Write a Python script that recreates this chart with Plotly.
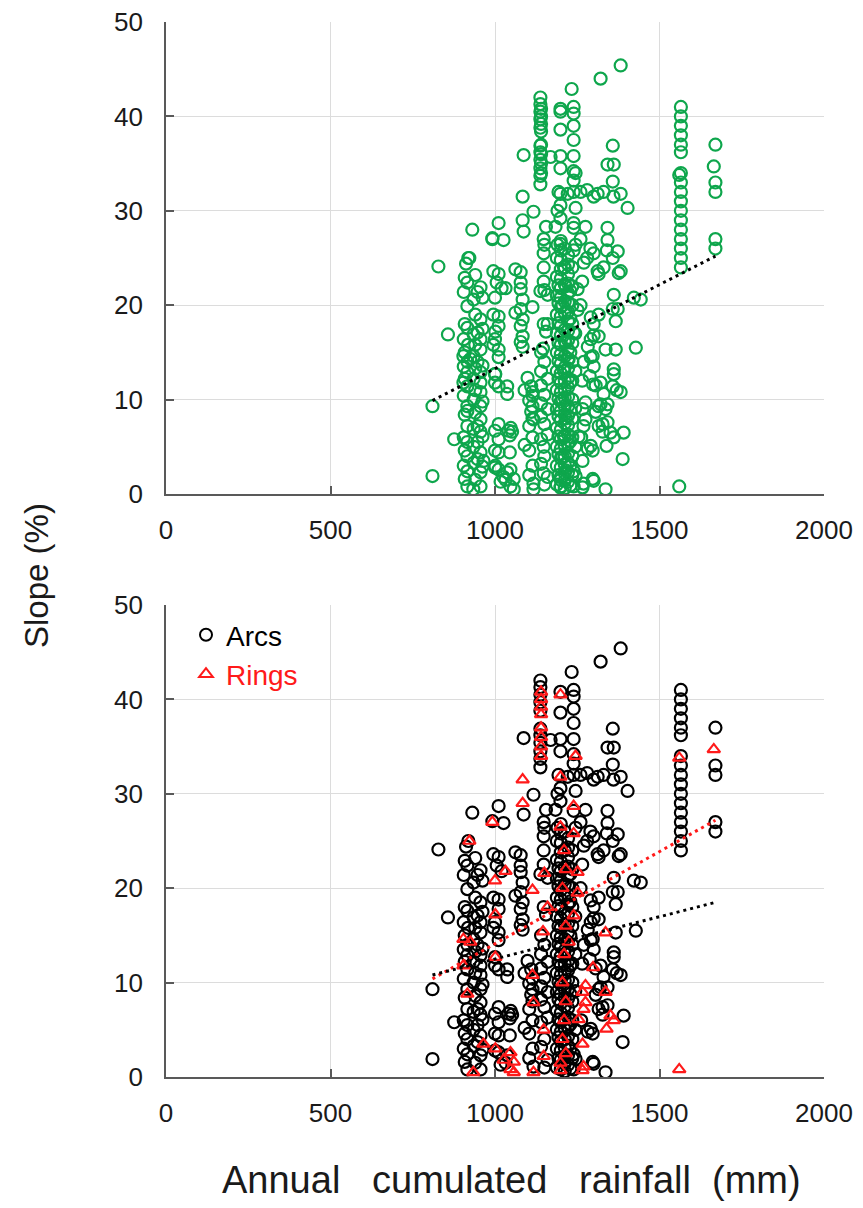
import plotly.graph_objects as go

# ---------------- data ----------------
# Arcs: (annual rainfall mm, slope %)
arcs = [
    # sparse left points
    (810, 9.3), (810, 1.9), (828, 24.1), (857, 16.9), (876, 5.8),
    # column ~905-920
    (919, 25.0), (912, 24.4), (908, 22.9), (916, 22.4), (905, 21.4), (916, 19.9), (908, 18.0),
    (916, 17.6), (905, 16.4), (918, 15.8), (908, 15.0), (916, 14.0), (905, 13.5), (916, 12.9),
    (908, 12.2), (916, 11.4), (905, 10.4), (916, 9.3), (908, 8.4), (916, 7.2), (905, 6.0),
    (916, 5.5), (908, 4.6), (916, 4.0), (905, 3.0), (916, 2.4), (908, 1.6), (916, 0.8),
    # column ~935-962
    (931, 28.0), (940, 23.2), (956, 21.9), (947, 21.4), (935, 20.6), (940, 19.0), (956, 18.5),
    (947, 17.1), (935, 16.9), (956, 16.4), (940, 15.8), (956, 15.3), (935, 14.6), (947, 14.0),
    (940, 13.3), (956, 12.9), (935, 12.2), (956, 11.8), (940, 11.0), (956, 10.8), (935, 10.0),
    (956, 9.3), (940, 8.6), (956, 7.9), (947, 7.2), (935, 6.9), (956, 6.6), (947, 5.5),
    (935, 5.0), (956, 4.4), (947, 3.7), (935, 3.3), (956, 2.3), (940, 1.5), (956, 0.8),
    (962, 20.8), (962, 17.5), (962, 13.6), (962, 9.8), (962, 6.1), (962, 2.9),
    # column ~990-1050
    (992, 27.1), (1011, 28.7), (1026, 26.9), (1011, 23.3), (995, 23.6), (1005, 22.4),
    (1020, 21.8), (1011, 18.8), (995, 19.0), (1011, 17.8), (1000, 16.4), (1011, 15.3),
    (995, 15.8), (1011, 14.5), (1000, 12.7), (1011, 11.4), (1000, 11.8), (1011, 7.4),
    (1000, 6.7), (1011, 5.8), (1000, 4.6), (1011, 4.4), (1000, 2.8), (1011, 2.6), (1017, 1.3),
    (1037, 11.4), (1037, 10.6), (1041, 6.7), (1048, 7.0), (1045, 6.2), (1052, 6.6),
    (1037, 2.3), (1032, 1.5), (1045, 4.4),
    # column ~1060-1120
    (1087, 35.9), (1117, 29.9), (1087, 27.8), (1078, 23.5), (1078, 22.4), (1078, 21.7),
    (1084, 20.6), (1078, 19.6), (1084, 18.5), (1078, 17.8), (1084, 16.7), (1078, 16.1),
    (1084, 15.6), (1062, 23.8), (1062, 19.2),
    (1099, 12.3), (1110, 11.4), (1114, 10.4), (1104, 9.9), (1114, 9.3), (1110, 8.7),
    (1114, 8.0), (1104, 7.2), (1114, 6.0), (1104, 4.6), (1114, 3.0), (1104, 2.0),
    (1117, 1.1), (1090, 11.0), (1090, 5.2),
    # column ~1140-1170
    (1138, 42.0), (1138, 41.3), (1138, 40.5), (1138, 39.7), (1138, 38.8), (1138, 36.9),
    (1138, 36.2), (1138, 35.4), (1138, 34.5), (1138, 33.7), (1138, 32.8),
    (1169, 35.7), (1155, 28.3), (1150, 26.4), (1138, 21.5), (1160, 21.1), (1148, 18.0),
    (1155, 17.2), (1148, 27.0), (1148, 25.5), (1148, 24.0), (1148, 22.5),
    (1140, 15.0), (1150, 14.0), (1140, 13.0), (1160, 12.2), (1140, 11.5), (1150, 10.5),
    (1140, 9.6), (1160, 9.0), (1140, 8.2), (1150, 7.4), (1160, 6.3), (1140, 5.8),
    (1150, 4.0), (1140, 3.2), (1160, 1.8), (1150, 1.0),
    # column ~1190-1245 upper part
    (1199, 40.8), (1199, 38.6), (1199, 35.8), (1199, 34.5), (1193, 32.0), (1190, 30.0),
    (1199, 30.6), (1184, 28.3), (1199, 29.2), (1190, 26.4),
    (1233, 42.9), (1239, 41.0), (1239, 40.3), (1239, 39.0), (1239, 37.5), (1239, 35.8),
    (1239, 34.2), (1239, 33.2), (1239, 32.0), (1245, 30.3), (1239, 28.2), (1245, 26.4),
    # dense column ~1185-1240
    (1200, 0.8), (1200, 1.8), (1200, 2.8), (1200, 3.8), (1200, 4.8), (1200, 5.8), (1200, 6.8),
    (1200, 7.8), (1200, 8.8), (1200, 9.8), (1200, 10.8), (1200, 11.8), (1200, 12.8),
    (1200, 13.8), (1200, 14.8), (1200, 15.8), (1200, 16.8), (1200, 17.8), (1200, 18.8),
    (1200, 19.8), (1200, 20.8), (1200, 21.8), (1200, 22.8), (1200, 23.8), (1200, 24.8),
    (1200, 25.8), (1200, 26.8),
    (1212, 0.6), (1212, 1.4), (1212, 2.2), (1212, 3.1), (1212, 4.0), (1212, 5.1), (1212, 6.2),
    (1212, 7.5), (1212, 8.4), (1212, 9.3), (1212, 10.2), (1212, 11.1), (1212, 12.0),
    (1212, 13.4), (1212, 14.6), (1212, 16.2), (1212, 17.4), (1212, 19.2), (1212, 20.4),
    (1212, 22.2), (1212, 24.0), (1212, 26.0),
    (1222, 1.3), (1222, 2.3), (1222, 3.3), (1222, 4.3), (1222, 5.3), (1222, 6.3), (1222, 7.3),
    (1222, 8.3), (1222, 9.3), (1222, 10.3), (1222, 11.3), (1222, 12.3), (1222, 13.3),
    (1222, 14.3), (1222, 15.3), (1222, 16.3), (1222, 17.3), (1222, 18.3), (1222, 19.3),
    (1222, 20.3), (1222, 21.3), (1222, 22.3), (1222, 23.3), (1222, 24.3), (1222, 25.3),
    (1188, 1.0), (1188, 3.0), (1188, 5.0), (1188, 7.0), (1188, 9.0), (1188, 11.0),
    (1188, 13.0), (1188, 15.0), (1188, 17.0), (1188, 19.0), (1188, 21.0), (1188, 23.0),
    (1188, 25.0),
    (1193, 2.0), (1193, 4.2), (1193, 6.1), (1193, 8.2), (1193, 10.1), (1193, 12.2),
    (1193, 14.1), (1193, 16.0), (1193, 18.1), (1193, 20.2), (1193, 22.1),
    (1235, 2.0), (1235, 4.0), (1235, 6.0), (1235, 8.0), (1235, 10.0), (1235, 12.0),
    (1235, 14.0), (1235, 16.0), (1235, 18.0), (1235, 20.0), (1235, 22.0), (1235, 24.0),
    (1229, 0.9), (1229, 3.0), (1229, 5.6), (1229, 8.8), (1229, 11.8), (1229, 15.0),
    (1229, 18.6), (1229, 21.5), (1244, 5.0), (1244, 9.1), (1244, 13.0), (1244, 17.0),
    # upper right
    (1321, 44.0), (1382, 45.4), (1358, 36.9), (1342, 34.9), (1361, 34.9), (1358, 33.1),
    (1221, 31.8), (1260, 32.0), (1280, 32.2), (1300, 31.5), (1312, 31.8), (1330, 32.0),
    (1360, 31.5), (1382, 31.8), (1403, 30.3), (1275, 28.3), (1342, 28.2), (1342, 26.9),
    (1260, 27.0), (1290, 26.0),
    # lower right
    (1312, 23.6), (1382, 23.6), (1358, 25.0), (1373, 25.7), (1315, 23.3), (1376, 23.4),
    (1422, 20.8), (1443, 20.6), (1361, 21.1), (1358, 19.6), (1373, 19.6), (1291, 18.7),
    (1315, 19.0), (1367, 18.3), (1300, 18.0), (1291, 16.4), (1300, 16.8), (1315, 16.7),
    (1428, 15.5), (1367, 15.3), (1282, 15.6), (1291, 14.5), (1297, 14.6), (1361, 13.2),
    (1361, 12.7), (1288, 12.5), (1300, 13.5), (1321, 11.8), (1358, 11.4), (1370, 11.0),
    (1382, 10.8), (1306, 11.5), (1330, 10.6), (1315, 9.3), (1306, 8.7), (1342, 9.5),
    (1321, 9.5), (1327, 7.4), (1342, 7.6), (1315, 7.2), (1327, 6.6), (1391, 6.5),
    (1291, 5.1), (1282, 4.8), (1297, 4.6), (1388, 3.7), (1239, 2.4), (1245, 1.9),
    (1297, 1.6), (1300, 1.4), (1336, 0.5), (1239, 0.8), (1260, 20.0), (1265, 22.5),
    (1270, 24.5), (1280, 25.0), (1300, 25.5), (1330, 24.0), (1340, 25.8), (1270, 14.0),
    (1265, 12.0), (1262, 6.0),
    # column ~1565
    (1565, 41.0), (1565, 40.0), (1565, 39.0), (1565, 38.0), (1565, 37.0), (1565, 36.2),
    (1565, 34.0), (1565, 33.0), (1565, 32.0), (1565, 31.0), (1565, 30.0), (1565, 29.0),
    (1565, 28.0), (1565, 27.0), (1565, 26.0), (1565, 25.0), (1565, 24.0),
    # column ~1670
    (1670, 37.0), (1670, 33.0), (1670, 32.0), (1670, 27.0), (1670, 26.0),
]

# Rings: (annual rainfall mm, slope %)
rings = [
    (1140, 40.8), (1140, 40.0), (1140, 39.2), (1140, 38.4), (1140, 37.0), (1140, 36.0),
    (1140, 35.0), (1140, 34.0),
    (1199, 40.5), (1199, 31.8), (1199, 26.5),
    (1245, 34.0), (1239, 28.7), (1239, 25.8), (1251, 21.7), (1251, 19.5), (1239, 17.1),
    (1224, 14.3),
    (1084, 31.5), (1084, 29.0), (992, 27.0), (922, 25.0),
    (1560, 33.8), (1560, 0.8), (1665, 34.7),
    (1032, 21.8), (1150, 21.6), (1114, 19.8), (1160, 18.0), (1001, 17.2), (1146, 15.4),
    (1001, 12.7), (1336, 15.3), (904, 14.6), (904, 11.8), (1114, 10.8), (916, 8.8),
    (1275, 9.7), (1275, 7.9), (1269, 7.2), (1117, 7.9), (1298, 11.6), (1336, 9.0),
    (1266, 9.0), (1351, 6.5), (1361, 6.0), (1339, 5.1), (1254, 6.1), (1148, 5.0),
    (1148, 2.2), (965, 3.5), (1001, 3.0), (1266, 3.5), (1057, 1.6), (1026, 1.8),
    (1199, 1.5), (1269, 1.1), (1117, 0.5), (934, 0.5), (1057, 0.5), (1199, 0.7),
    (1266, 0.7),
    (1210, 24.0), (1215, 22.0), (1205, 20.0), (1215, 16.0), (1210, 13.0), (1205, 10.0),
    (1215, 8.0), (1210, 6.0), (1205, 4.0), (1215, 2.5), (1000, 20.8), (1047, 2.6),
    (1047, 0.8), (925, 14.3),
]

# Linear trend lines (end points)
trend_x = [810, 1670]
trend_all = [9.9, 25.2]
trend_arcs = [10.8, 18.5]
trend_rings = [10.4, 27.2]

x_ticks = [0, 500, 1000, 1500, 2000]
y_ticks = [0, 10, 20, 30, 40, 50]

# ---------------- figure ----------------
W, H = 863, 1208
GREEN = "#0ea64c"
RED = "#ff1a1a"
FONT = "Liberation Sans, Arial, sans-serif"

arcs_x = [p[0] for p in arcs]
arcs_y = [p[1] for p in arcs]
rings_x = [p[0] for p in rings]
rings_y = [p[1] for p in rings]

fig = go.Figure()

circle = dict(symbol="circle-open", size=12, line=dict(width=2.2))
tri = dict(symbol="triangle-up-open", size=11, line=dict(width=2.2))

# top panel: all features
fig.add_trace(go.Scatter(x=arcs_x + rings_x, y=arcs_y + rings_y, mode="markers",
                         marker=dict(color=GREEN, **circle), xaxis="x", yaxis="y",
                         showlegend=False, hoverinfo="skip"))
fig.add_trace(go.Scatter(x=trend_x, y=trend_all, mode="lines",
                         line=dict(color="black", width=3, dash="3px,4px"),
                         xaxis="x", yaxis="y", showlegend=False))

# bottom panel
fig.add_trace(go.Scatter(x=arcs_x, y=arcs_y, mode="markers", name="Arcs",
                         marker=dict(color="black", **circle), xaxis="x2", yaxis="y2"))
fig.add_trace(go.Scatter(x=rings_x, y=rings_y, mode="markers",
                         name='<span style="color:#ff1a1a">Rings</span>',
                         marker=dict(color=RED, **tri), xaxis="x2", yaxis="y2"))
fig.add_trace(go.Scatter(x=trend_x, y=trend_rings, mode="lines",
                         line=dict(color=RED, width=3, dash="3px,4px"),
                         xaxis="x2", yaxis="y2", showlegend=False))
fig.add_trace(go.Scatter(x=trend_x, y=trend_arcs, mode="lines",
                         line=dict(color="black", width=3, dash="3px,4px"),
                         xaxis="x2", yaxis="y2", showlegend=False))

xdom = [166 / W, 824 / W]
axis_common = dict(showgrid=True, gridcolor="#dcdcdc", gridwidth=1.2, showline=True,
                   linecolor="#595959", linewidth=1.6, ticks="inside", ticklen=8,
                   tickcolor="#595959", tickwidth=1.5, zeroline=False, automargin=False,
                   tickfont=dict(family=FONT, size=26, color="#1a1a1a"))

fig.update_layout(
    width=W, height=H, margin=dict(l=0, r=0, t=0, b=0, autoexpand=False),
    paper_bgcolor="white", plot_bgcolor="white",
    xaxis=dict(domain=xdom, range=[0, 2000], tickvals=x_ticks, anchor="y",
               ticklabelstandoff=12, **axis_common),
    yaxis=dict(domain=[1 - 494 / H, 1 - 22 / H], range=[0, 50], tickvals=y_ticks,
               anchor="x", ticklabelstandoff=16, **axis_common),
    xaxis2=dict(domain=xdom, range=[0, 2000], tickvals=x_ticks, anchor="y2",
                ticklabelstandoff=12, **axis_common),
    yaxis2=dict(domain=[1 - 1077 / H, 1 - 605 / H], range=[0, 50], tickvals=y_ticks,
                anchor="x2", ticklabelstandoff=16, **axis_common),
    legend=dict(x=186 / W, y=1 - 610 / H, xanchor="left", yanchor="top",
                bgcolor="rgba(0,0,0,0)", font=dict(family=FONT, size=28, color="black"),
                itemsizing="constant", tracegroupgap=0),
    annotations=[
        dict(text="Slope (%)", x=36 / W, y=1 - 576 / H, xref="paper", yref="paper",
             xanchor="center", yanchor="middle",
             showarrow=False, textangle=-90, font=dict(family=FONT, size=33, color="#1a1a1a")),
        dict(text="Annual&nbsp;&nbsp; cumulated&nbsp;&nbsp; rainfall&nbsp; (mm)",
             x=511 / W, y=1 - 1180 / H, xref="paper", yref="paper",
             xanchor="center", yanchor="middle",
             showarrow=False, font=dict(family=FONT, size=38, color="#1a1a1a")),
    ],
)

fig.write_html("out.html")
